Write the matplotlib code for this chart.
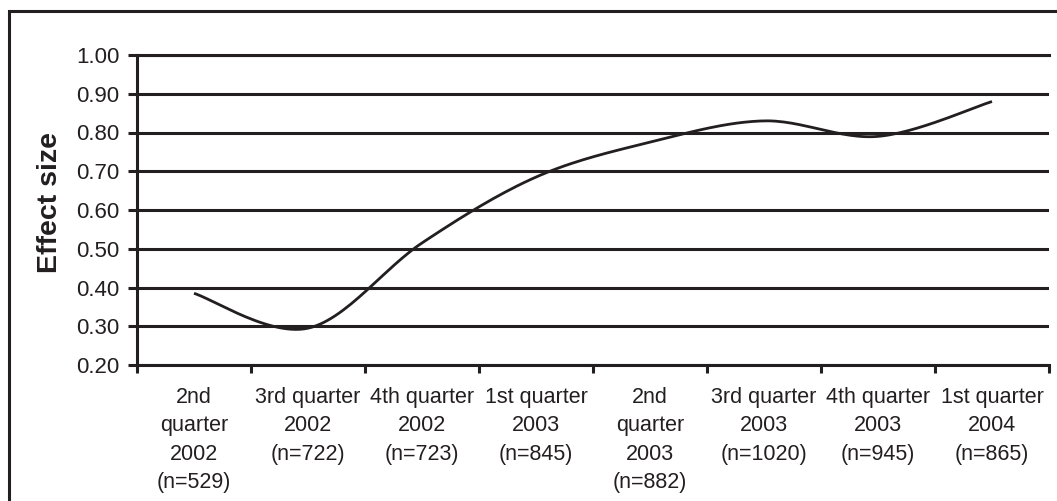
import numpy as np
import matplotlib
matplotlib.use('Agg')
import matplotlib.pyplot as plt
from matplotlib.patches import Rectangle

# data
tick_labels = [
    '2nd\nquarter\n2002\n(n=529)',
    '3rd quarter\n2002\n(n=722)',
    '4th quarter\n2002\n(n=723)',
    '1st quarter\n2003\n(n=845)',
    '2nd\nquarter\n2003\n(n=882)',
    '3rd quarter\n2003\n(n=1020)',
    '4th quarter\n2003\n(n=945)',
    '1st quarter\n2004\n(n=865)',
]
effect_size = [0.385, 0.295, 0.515, 0.685, 0.775, 0.830, 0.790, 0.880]
yticks = [0.20, 0.30, 0.40, 0.50, 0.60, 0.70, 0.80, 0.90, 1.00]


def smooth_line(x, y, steps=30):
    # Excel-style smoothed line (Catmull-Rom through each point)
    x = np.asarray(x, float)
    y = np.asarray(y, float)
    px = np.concatenate([[x[0]], x, [x[-1]]])
    py = np.concatenate([[y[0]], y, [y[-1]]])
    xs, ys = [], []
    t = np.linspace(0, 1, steps)
    for i in range(1, len(px) - 2):
        p0, p1, p2, p3 = (np.array([px[j], py[j]]) for j in range(i - 1, i + 3))
        c1 = p1 + (p2 - p0) / 6.0
        c2 = p2 - (p3 - p1) / 6.0
        pts = ((1 - t) ** 3)[:, None] * p1 + (3 * (1 - t) ** 2 * t)[:, None] * c1 \
            + (3 * (1 - t) * t ** 2)[:, None] * c2 + (t ** 3)[:, None] * p2
        xs.extend(pts[:, 0])
        ys.extend(pts[:, 1])
    return np.array(xs), np.array(ys)


plt.rcParams['font.family'] = ['Liberation Sans', 'DejaVu Sans']
ink = '#231f20'
lw = 2.2

fig = plt.figure(figsize=(10.57, 5.01), dpi=100)
ax = fig.add_axes([137 / 1057, 136 / 501, 912 / 1057, 310 / 501])

xpos = np.arange(len(effect_size)) + 0.5
sx, sy = smooth_line(xpos, effect_size)
ax.plot(sx, sy, color=ink, lw=2.0, solid_capstyle='butt', zorder=3)

ax.set_xlim(0, len(effect_size))
ax.set_ylim(0.2, 1.0)
ax.set_yticks(yticks)
ax.set_yticklabels([f'{v:.2f}' for v in yticks])
ax.yaxis.grid(True, color=ink, lw=lw)
ax.set_axisbelow(True)

ax.set_xticks(np.arange(len(effect_size) + 1))
ax.set_xticklabels([])
ax.set_xticks(xpos, minor=True)
ax.set_xticklabels(tick_labels, minor=True, fontsize=15.5, color=ink, linespacing=1.45)
ax.tick_params(axis='x', which='major', direction='out', length=5.5, width=lw, color=ink)
ax.tick_params(axis='x', which='minor', length=0, pad=16)
ax.tick_params(axis='y', direction='out', length=6.5, width=lw, color=ink,
               labelsize=16, labelcolor=ink, pad=6)

ax.spines['right'].set_visible(False)
for s in ['left', 'bottom', 'top']:
    ax.spines[s].set_color(ink)
    ax.spines[s].set_linewidth(lw)

ax.set_ylabel('Effect size', fontsize=20.5, fontweight='bold', color=ink)
ax.yaxis.set_label_coords(-74 / 912, 0.523)

# outer frame of the chart (right and bottom edges run off the picture)
fig.add_artist(Rectangle((8.5 / 1057, -0.2), 1.2, 1.2 - 11 / 501,
                         transform=fig.transFigure, fill=False, lw=2.2,
                         edgecolor=ink, clip_on=False))

fig.savefig('out.png', dpi=100)
